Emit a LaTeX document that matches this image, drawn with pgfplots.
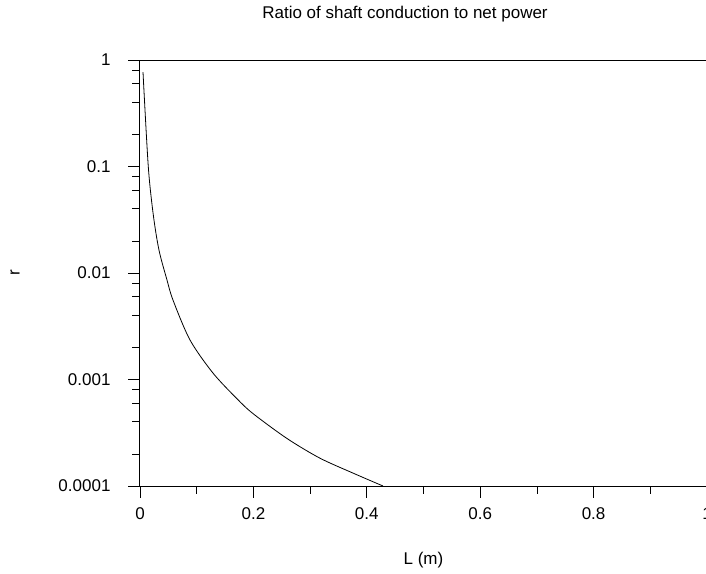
\documentclass[border=0pt]{standalone}
\usepackage{fontspec}
\setmainfont{Liberation Sans}
\usepackage{pgfplots}
\pgfplotsset{compat=1.18}
\begin{document}
\begin{tikzpicture}
\begin{semilogyaxis}[
    at={(0pt,0pt)}, anchor=south west,
    scale only axis,
    width=567pt, height=426pt,
    xmin=0, xmax=1,
    ymin=1e-4, ymax=1,
    axis lines=left,
    axis line style={-, line width=1pt},
    clip=false,
    xtick={0,0.2,0.4,0.6,0.8,1},
    xticklabels={0,0.2,0.4,0.6,0.8,1},
    minor xtick={0.1,0.3,0.5,0.7,0.9},
    ytick={1e-4,1e-3,1e-2,1e-1,1},
    yticklabels={0.0001,0.001,0.01,0.1,1},
    minor ytick={2e-4,4e-4,6e-4,8e-4,2e-3,4e-3,6e-3,8e-3,2e-2,4e-2,6e-2,8e-2,0.2,0.4,0.6,0.8},
    tick align=outside,
    major tick length=12pt,
    minor tick length=8pt,
    tick style={black, line width=0.8pt},
    every tick label/.append style={font=\fontsize{17}{20}\selectfont},
    xticklabel style={yshift=-6pt},
    yticklabel style={xshift=-14pt},
    title={Ratio of shaft conduction to net power},
    title style={font=\fontsize{17}{20}\selectfont, at={(rel axis cs:0,1)}, anchor=center, xshift=265pt, yshift=40pt},
    xlabel={L (m)},
    xlabel style={font=\fontsize{17}{20}\selectfont, at={(rel axis cs:0.5,0)}, anchor=center, yshift=-74pt},
    ylabel={r},
    ylabel style={font=\fontsize{17}{20}\selectfont, at={(rel axis cs:0,0.5)}, anchor=center, yshift=125pt},
]
\addplot[black, line width=0.8pt, smooth] coordinates {
    (0.0053,0.77)(0.0146,0.1)(0.0235,0.035)(0.0335,0.0164)
    (0.0476,0.0086)(0.0582,0.00557)(0.0882,0.00235)
    (0.1287,0.00115)(0.171,0.00066)(0.199,0.00048)
    (0.259,0.00028)(0.317,0.000183)(0.376,0.000132)(0.4286,0.0001)
};
\draw[line width=1pt] (rel axis cs:0,1) -- (rel axis cs:1,1);
\end{semilogyaxis}
\pgfresetboundingbox
\useasboundingbox (-140pt,-87pt) rectangle (566pt,486pt);
\end{tikzpicture}
\end{document}
